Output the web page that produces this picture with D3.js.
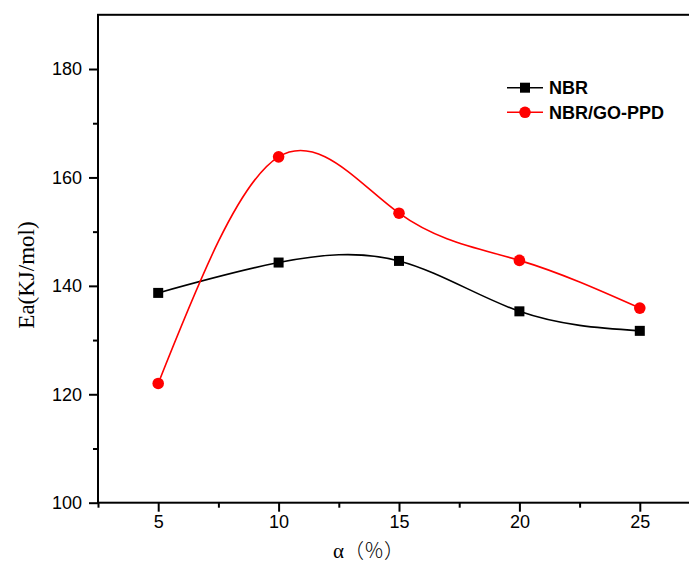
<!DOCTYPE html>
<html>
<head>
<meta charset="utf-8">
<script src="https://cdn.jsdelivr.net/npm/d3@7"></script>
<style>
  html, body { margin: 0; padding: 0; background: #fff; }
  svg { display: block; }
</style>
</head>
<body>
<svg id="chart" width="689" height="564"></svg>
<script>
// Filler content (%) and activation energy (kJ/mol)
const alpha = [5, 10, 15, 20, 25];
const nbr = [138.7, 144.3, 144.6, 135.3, 131.7];
const nbrGoPpd = [122.0, 163.8, 153.4, 144.7, 135.9];
const seriesNames = ["NBR", "NBR/GO-PPD"];
const xTicks = [5, 10, 15, 20, 25];
const yTicks = [100, 120, 140, 160, 180];

const svg = d3.select("#chart");
const x = d3.scaleLinear().domain([2.5, 27.5]).range([98, 700]);
const y = d3.scaleLinear().domain([100, 190]).range([502.7, 14.8]);

const tickFont = "'Liberation Sans', Arial, sans-serif";

// Frame (right side runs past the canvas edge)
svg.append("rect")
  .attr("x", x(2.5)).attr("y", y(190))
  .attr("width", x(27.5) - x(2.5)).attr("height", y(100) - y(190))
  .attr("fill", "none").attr("stroke", "#000").attr("stroke-width", 2);

// Bottom axis with minor ticks
const xAxis = d3.axisBottom(x).tickValues(xTicks).tickSize(9).tickPadding(4).tickFormat(d3.format("d"));
const gx = svg.append("g").attr("transform", `translate(0,${y(100)})`).call(xAxis);
gx.select(".domain").remove();
gx.selectAll(".tick line").attr("stroke-width", 2);
gx.selectAll(".tick text").attr("font-family", tickFont).attr("font-size", 18).attr("fill", "#000");
const xMinor = d3.axisBottom(x).tickValues([2.5, 7.5, 12.5, 17.5, 22.5]).tickSize(5).tickFormat("");
const gxm = svg.append("g").attr("transform", `translate(0,${y(100)})`).call(xMinor);
gxm.select(".domain").remove();
gxm.selectAll(".tick line").attr("stroke-width", 2);

// Left axis with minor ticks
const yAxis = d3.axisLeft(y).tickValues(yTicks).tickSize(9).tickPadding(7).tickFormat(d3.format("d"));
const gy = svg.append("g").attr("transform", `translate(${x(2.5)},0)`).call(yAxis);
gy.select(".domain").remove();
gy.selectAll(".tick line").attr("stroke-width", 2);
gy.selectAll(".tick text").attr("font-family", tickFont).attr("font-size", 18).attr("fill", "#000");
const yMinor = d3.axisLeft(y).tickValues([110, 130, 150, 170]).tickSize(5).tickFormat("");
const gym = svg.append("g").attr("transform", `translate(${x(2.5)},0)`).call(yMinor);
gym.select(".domain").remove();
gym.selectAll(".tick line").attr("stroke-width", 2);

// Axis titles
const xt = svg.append("text").attr("x", 333).attr("y", 558).attr("font-size", 20);
xt.append("tspan").attr("font-family", "'Liberation Serif', 'Times New Roman', serif").attr("font-size", 21).text("α");
xt.append("tspan").attr("font-family", "'Noto Sans CJK SC', sans-serif").attr("font-weight", 300).text("（％）");
svg.append("text")
  .attr("transform", "translate(34,275) rotate(-90)")
  .attr("text-anchor", "middle")
  .attr("font-family", "'Liberation Serif', 'Times New Roman', serif")
  .attr("font-size", 23)
  .text("Ea(KJ/mol)");

// Smoothed curves through the data
const line = d3.line().x(d => x(d[0])).y(d => y(d[1])).curve(d3.curveNatural);
const ptsBlack = alpha.map((a, i) => [a, nbr[i]]);
const ptsRed = alpha.map((a, i) => [a, nbrGoPpd[i]]);

svg.append("path").attr("d", line(ptsBlack)).attr("fill", "none").attr("stroke", "#000").attr("stroke-width", 1.6);
svg.append("path").attr("d", line(ptsRed)).attr("fill", "none").attr("stroke", "#ff0000").attr("stroke-width", 1.6);

svg.append("g").selectAll("rect").data(ptsBlack).join("rect")
  .attr("x", d => x(d[0]) - 5).attr("y", d => y(d[1]) - 5)
  .attr("width", 10).attr("height", 10).attr("fill", "#000");
svg.append("g").selectAll("circle").data(ptsRed).join("circle")
  .attr("cx", d => x(d[0])).attr("cy", d => y(d[1])).attr("r", 5.8).attr("fill", "#ff0000");

// Legend
const legend = svg.append("g");
const rows = [
  { name: seriesNames[0], color: "#000", shape: "square", yc: 87.7 },
  { name: seriesNames[1], color: "#ff0000", shape: "circle", yc: 112.3 }
];
rows.forEach(r => {
  legend.append("line").attr("x1", 507).attr("x2", 543).attr("y1", r.yc).attr("y2", r.yc)
    .attr("stroke", r.color).attr("stroke-width", 1.6);
  if (r.shape === "square") {
    legend.append("rect").attr("x", 520).attr("y", r.yc - 5).attr("width", 10).attr("height", 10).attr("fill", r.color);
  } else {
    legend.append("circle").attr("cx", 525).attr("cy", r.yc).attr("r", 5.8).attr("fill", r.color);
  }
  legend.append("text").attr("x", 549).attr("y", r.yc + 6.3)
    .attr("font-family", tickFont).attr("font-weight", "bold").attr("font-size", 18)
    .text(r.name);
});
</script>
</body>
</html>
